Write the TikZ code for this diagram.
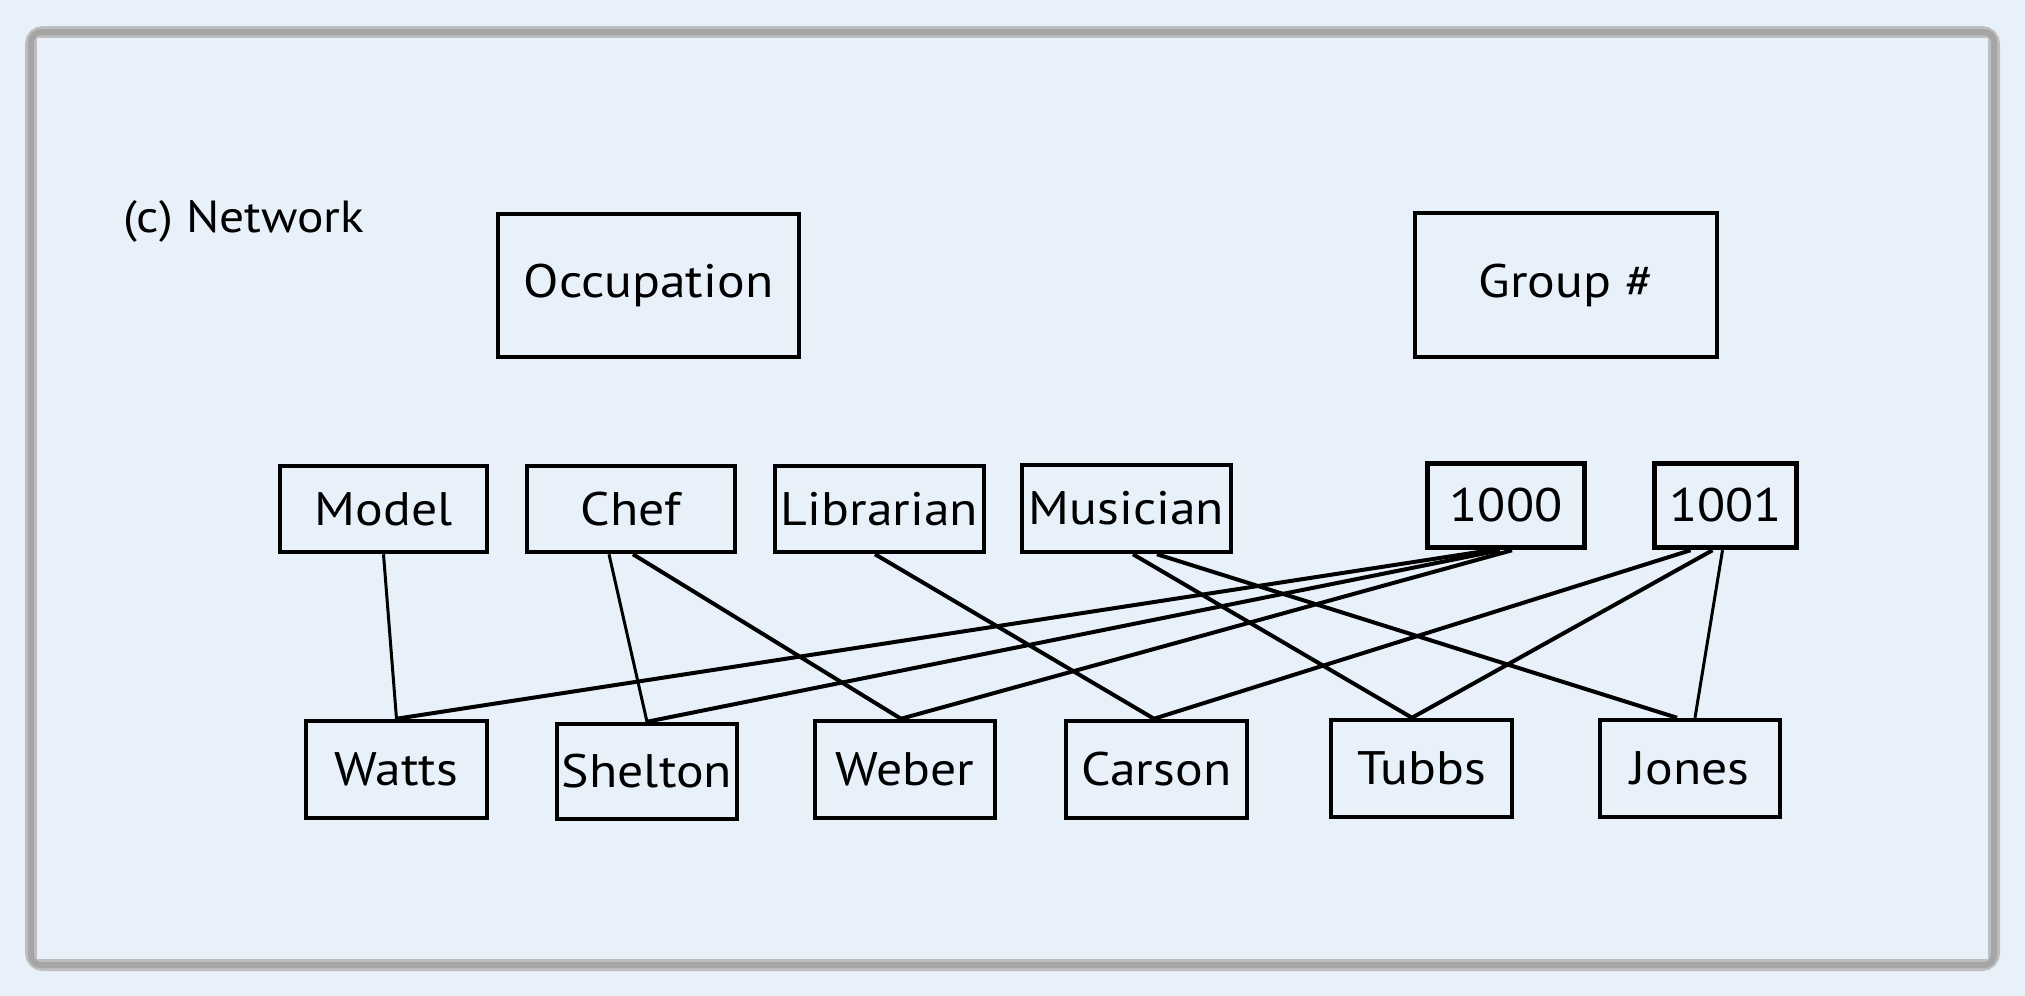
\documentclass[tikz,border=0pt]{standalone}
\usepackage{fontspec}
\setmainfont[FakeStretch=1.1]{PT Sans}
\usetikzlibrary{calc}
\definecolor{bgblue}{HTML}{E8F1FA}
\definecolor{frameA}{HTML}{BEBEBE}
\definecolor{frameB}{HTML}{A5A5A5}
\tikzset{
  box/.style={draw=black, line width=2.25pt, inner sep=0pt, font=\fontsize{23.5}{26}\selectfont},
  boxthick/.style={box, line width=2.75pt},
  sz/.style 2 args={minimum width=#1*0.5pt, minimum height=#2*0.5pt},
  link/.style={draw=black, line width=2pt},
  thinlink/.style={draw=black, line width=1.5pt},
}
\begin{document}
\begin{tikzpicture}[x=0.5pt,y=-0.5pt]
\useasboundingbox (0,0) rectangle (2025,996);
\fill[bgblue] (0,0) rectangle (2025,996);
% panel frame
\draw[frameA, line width=6pt, rounded corners=6] (31,32) rectangle (1994,965);
\draw[frameB, line width=3pt, rounded corners=5] (31,32) rectangle (1994,965);
\fill[bgblue] (37,38) rectangle (1988,959);

\node[anchor=base west, inner sep=0pt, font=\fontsize{22.5}{25}\selectfont] (title) at (123,232) {(c) Network};

\node[box, sz={301}{143}] (occ) at (648.5,285.5) {Occupation};
\node[box, sz={302}{144}] (grp) at (1566,285) {Group \#};

\node[box, sz={207}{86}] (model) at (383.5,509) {Model};
\node[box, sz={208}{86}] (chef) at (631,509) {Chef};
\node[box, sz={209}{86}] (lib) at (879.5,509) {Librarian};
\node[box, sz={209}{87}] (mus) at (1126.5,508.5) {Musician};
\node[boxthick, sz={157}{84}] (g1000) at (1506,505.5) {1000};
\node[boxthick, sz={142}{84}] (g1001) at (1725.5,505.5) {1001};

\node[box, sz={181}{97}] (watts) at (396.5,769.5) {Watts};
\node[box, sz={180}{95}] (shelton) at (647,771.5) {Shelton};
\node[box, sz={180}{97}] (weber) at (905,769.5) {Weber};
\node[box, sz={181}{97}] (carson) at (1156.5,769.5) {Carson};
\node[box, sz={181}{97}] (tubbs) at (1421.5,768.5) {Tubbs};
\node[box, sz={180}{97}] (jones) at (1690,768.5) {Jones};

\draw[thinlink] (model.south) -- (watts.north);
\draw[thinlink] ($(chef.south)+(-22,0)$) -- (shelton.north);
\draw[link] ($(chef.south)+(2,0)$) -- ($(weber.north)+(-4,0)$);
\draw[link] ($(lib.south)+(-4.5,0)$) -- ($(carson.north)+(-2.5,0)$);
\draw[link] ($(mus.south)+(6.5,0)$) -- ($(tubbs.north)+(-9.5,0)$);
\draw[link] ($(mus.south)+(30.5,0)$) -- ($(jones.north)+(-13,0)$);
\draw[link] ($(g1000.south)+(-16,0)$) -- (watts.north);
\draw[link] ($(g1000.south)+(-6,0)$) -- (shelton.north);
\draw[link] ($(g1000.south)+(6,0)$) -- ($(weber.north)+(-4,0)$);
\draw[link] ($(g1001.south)+(-35,0)$) -- ($(carson.north)+(-2.5,0)$);
\draw[link] ($(g1001.south)+(-13,0)$) -- ($(tubbs.north)+(-9.5,0)$);
\draw[thinlink] ($(g1001.south)+(-3,0)$) -- ($(jones.north)+(5,0)$);
\end{tikzpicture}
\end{document}
